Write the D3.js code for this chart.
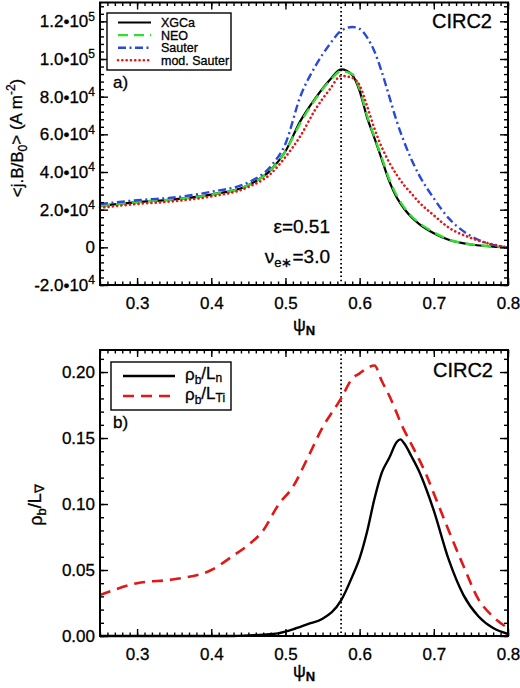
<!DOCTYPE html>
<html><head><meta charset="utf-8">
<script src="https://cdn.jsdelivr.net/npm/d3@7"></script>
<style>
body{margin:0;background:#fff}
text{font-family:"Liberation Sans",Arial,Helvetica,sans-serif;fill:#000;stroke:#000;stroke-width:0.3px}
</style>
</head><body>
<svg id="c" width="520" height="688"></svg>
<script>
// ---------- data ----------
const psiTop    = [0.25,0.30,0.35,0.40,0.45,0.48,0.50,0.52,0.54,0.56,0.575,0.59,0.60,0.61,0.62,0.63,0.64,0.65,0.66,0.67,0.68,0.70,0.72,0.75,0.78,0.80];
const xgca      = [2.2e4,2.4e4,2.55e4,2.8e4,3.3e4,4.1e4,5.1e4,6.7e4,7.9e4,8.9e4,9.45e4,9.15e4,8.3e4,6.9e4,5.8e4,4.65e4,3.5e4,2.65e4,2.05e4,1.6e4,1.25e4,7.5e3,4e3,1.5e3,4e2,0];
const neo       = [2.2e4,2.4e4,2.55e4,2.8e4,3.3e4,4.1e4,5.1e4,6.6e4,7.85e4,8.85e4,9.35e4,9.2e4,8.4e4,7.0e4,5.85e4,4.75e4,3.6e4,2.75e4,2.12e4,1.65e4,1.3e4,8e3,4.2e3,1.6e3,5e2,0];
const sauter    = [2.3e4,2.5e4,2.65e4,2.95e4,3.45e4,4.3e4,5.5e4,8.0e4,9.6e4,1.08e5,1.15e5,1.17e5,1.16e5,1.115e5,1.04e5,9.3e4,8.0e4,6.7e4,5.6e4,4.65e4,3.85e4,2.6e4,1.55e4,6e3,1.3e3,0];
const modSauter = [2.1e4,2.3e4,2.45e4,2.7e4,3.2e4,3.9e4,4.8e4,5.9e4,7.3e4,8.4e4,9.1e4,9.0e4,8.6e4,7.5e4,6.3e4,5.3e4,4.5e4,3.85e4,3.3e4,2.85e4,2.4e4,1.7e4,1.05e4,5e3,1.5e3,0];

const psiBot = [0.25,0.30,0.35,0.40,0.43,0.45,0.47,0.49,0.51,0.53,0.55,0.575,0.59,0.60,0.61,0.62,0.63,0.64,0.65,0.655,0.66,0.67,0.68,0.69,0.70,0.72,0.74,0.76,0.78,0.80];
const rhoLn  = [0,0,0,0,0,0.0005,0.001,0.002,0.005,0.009,0.013,0.027,0.045,0.059,0.079,0.104,0.124,0.135,0.147,0.149,0.146,0.136,0.125,0.111,0.095,0.058,0.031,0.015,0.006,0.0015];
const rhoLTi = [0.031,0.040,0.043,0.050,0.061,0.069,0.080,0.099,0.113,0.135,0.158,0.180,0.195,0.199,0.203,0.205,0.193,0.182,0.169,0.162,0.156,0.145,0.134,0.122,0.108,0.080,0.053,0.028,0.0146,0.006];

const xTickVals   = [0.3,0.4,0.5,0.6,0.7,0.8];
const xTickLabels = ["0.3","0.4","0.5","0.6","0.7","0.8"];
const yTopTickVals = [-2e4,0,2e4,4e4,6e4,8e4,1e5,1.2e5];
const yTopMant     = ["-2.0","0","2.0","4.0","6.0","8.0","1.0","1.2"];
const yTopExp      = ["4","","4","4","4","4","5","5"];
const yBotTickVals = [0,0.05,0.10,0.15,0.20];
const yBotTickLabels = ["0.00","0.05","0.10","0.15","0.20"];
const topLegend = ["XGCa","NEO","Sauter","mod. Sauter"];
const vLine = 0.575;

// ---------- layout ----------
const svg = d3.select("#c");
const L = 100, R = 508;
const x = d3.scaleLinear().domain([0.25,0.8]).range([L,R]);
const yT = d3.scaleLinear().domain([-2e4,1.3e5]).range([285,2.5]);
const yB = d3.scaleLinear().domain([0,0.2167]).range([636,350]);

function drawAxes(y, top, bottom, yMinorStep, yMajor, labelFn) {
  const g = svg.append("g");
  const xMinor = d3.range(0.25,0.8001,0.01).map(v=>+v.toFixed(2));
  const yMinor = d3.range(y.domain()[0], y.domain()[1]+1e-9, yMinorStep);
  g.append("g").attr("transform",`translate(0,${bottom})`).call(d3.axisBottom(x).tickValues(xMinor).tickSize(-3.5).tickSizeOuter(0).tickFormat(""));
  g.append("g").attr("transform",`translate(0,${top})`).call(d3.axisTop(x).tickValues(xMinor).tickSize(-3.5).tickSizeOuter(0).tickFormat(""));
  g.append("g").attr("transform",`translate(${L},0)`).call(d3.axisLeft(y).tickValues(yMinor).tickSize(-4).tickSizeOuter(0).tickFormat(""));
  g.append("g").attr("transform",`translate(${R},0)`).call(d3.axisRight(y).tickValues(yMinor).tickSize(-4).tickSizeOuter(0).tickFormat(""));
  g.append("g").attr("class","xb").attr("transform",`translate(0,${bottom})`)
    .call(d3.axisBottom(x).tickValues(xTickVals).tickSize(-7).tickSizeOuter(0).tickPadding(12).tickFormat((d,i)=>xTickLabels[i]));
  g.append("g").attr("transform",`translate(0,${top})`).call(d3.axisTop(x).tickValues(xTickVals).tickSize(-7).tickSizeOuter(0).tickFormat(""));
  const la = g.append("g").attr("transform",`translate(${L},0)`)
    .call(d3.axisLeft(y).tickValues(yMajor).tickSize(-8).tickSizeOuter(0).tickPadding(5).tickFormat(""));
  g.append("g").attr("transform",`translate(${R},0)`).call(d3.axisRight(y).tickValues(yMajor).tickSize(-8).tickSizeOuter(0).tickFormat(""));
  g.selectAll(".domain").remove();
  g.selectAll(".tick line").attr("stroke","#000").attr("stroke-width",1.4);
  g.selectAll(".xb text").attr("font-size",17).attr("font-family",'"Liberation Sans",Arial,sans-serif');
  la.selectAll(".tick text").each(function(d,i){ labelFn(d3.select(this), i); })
    .attr("font-size",17).attr("font-family",'"Liberation Sans",Arial,sans-serif');
  svg.append("rect").attr("x",L).attr("y",top).attr("width",R-L).attr("height",bottom-top)
    .attr("fill","none").attr("stroke","#000").attr("stroke-width",2);
}

// ---------- panel a ----------
const topY0 = yT.range()[1], topY1 = yT.range()[0];
const lineT = d3.line().x((d,i)=>x(psiTop[i])).y(d=>yT(d)).curve(d3.curveMonotoneX);
svg.append("line").attr("x1",x(vLine)).attr("x2",x(vLine)).attr("y1",topY0).attr("y2",topY1)
  .attr("stroke","#000").attr("stroke-width",1.8).attr("stroke-dasharray","1.6,2.6");
const seriesT = [
  {d:xgca, c:"#000", w:2.2, dash:null, cap:"butt"},
  {d:neo, c:"#33dd33", w:2.4, dash:"10,6", cap:"butt"},
  {d:sauter, c:"#2a48dc", w:2.4, dash:"8,3.5,2,3.5", cap:"butt"},
  {d:modSauter, c:"#e01818", w:2.6, dash:"0.1,4.2", cap:"round"}
];
seriesT.forEach(s=>{
  svg.append("path").attr("d",lineT(s.d)).attr("fill","none").attr("stroke",s.c)
    .attr("stroke-width",s.w).attr("stroke-dasharray",s.dash).attr("stroke-linecap",s.cap);
});
drawAxes(yT, topY0, topY1, 4000, yTopTickVals, (t,i)=>{
  t.text(null);
  t.append("tspan").text(yTopMant[i] === "0" ? "0" : yTopMant[i] + "\u2022" + "10");
  if (yTopExp[i]) t.append("tspan").attr("font-size",12).attr("dy","-0.55em").text(yTopExp[i]);
});
const lg = svg.append("g");
lg.append("rect").attr("x",107).attr("y",13).attr("width",124).attr("height",57).attr("fill","#fff").attr("stroke","#000").attr("stroke-width",1.4);
topLegend.forEach((name,i)=>{
  const yy = 22.5 + i*12.6, s = seriesT[i];
  lg.append("line").attr("x1",118).attr("x2",151).attr("y1",yy).attr("y2",yy).attr("stroke",s.c)
    .attr("stroke-width",s.w).attr("stroke-dasharray",s.dash).attr("stroke-linecap",s.cap);
  lg.append("text").attr("x",161).attr("y",yy).attr("dy","0.36em").attr("font-size",12.5).text(name);
});
svg.append("text").attr("x",113).attr("y",88).attr("font-size",17).text("a)");
svg.append("text").attr("x",492).attr("y",28).attr("font-size",20).attr("text-anchor","end").text("CIRC2");
svg.append("text").attr("x",330).attr("y",233).attr("font-size",19).attr("text-anchor","end").text("\u03b5=0.51");
const nu = svg.append("text").attr("x",330).attr("y",263).attr("font-size",19).attr("text-anchor","end");
nu.append("tspan").text("\u03bd");
nu.append("tspan").attr("font-size",13).attr("dy","0.3em").text("e\u2217");
nu.append("tspan").attr("dy","-0.22em").text("=3.0");
const xa = svg.append("text").attr("x",304).attr("y",331).attr("font-size",18).attr("text-anchor","middle");
xa.append("tspan").text("\u03c8");
xa.append("tspan").attr("font-size",13).attr("font-weight","bold").attr("dy","0.3em").text("N");
const ya = svg.append("text").attr("transform","translate(23,138) rotate(-90)").attr("font-size",17).attr("text-anchor","middle");
ya.append("tspan").text("<j.B/B");
ya.append("tspan").attr("font-size",12).attr("dy","0.3em").text("0");
ya.append("tspan").attr("dy","-0.3em").text("> (A m");
ya.append("tspan").attr("font-size",12).attr("dy","-0.55em").text("-2");
ya.append("tspan").attr("dy","0.4em").text(")");

// ---------- panel b ----------
const botY0 = yB.range()[1], botY1 = yB.range()[0];
const lineB = d3.line().x((d,i)=>x(psiBot[i])).y(d=>yB(d)).curve(d3.curveMonotoneX);
svg.append("line").attr("x1",x(vLine)).attr("x2",x(vLine)).attr("y1",botY0).attr("y2",botY1)
  .attr("stroke","#000").attr("stroke-width",1.8).attr("stroke-dasharray","1.6,2.6");
const seriesB = [
  {d:rhoLn, c:"#000", w:2.4, dash:null},
  {d:rhoLTi, c:"#e01818", w:2.6, dash:"11,7"}
];
seriesB.forEach(s=>{
  svg.append("path").attr("d",lineB(s.d)).attr("fill","none").attr("stroke",s.c)
    .attr("stroke-width",s.w).attr("stroke-dasharray",s.dash);
});
drawAxes(yB, botY0, botY1, 0.01, yBotTickVals, (t,i)=>{ t.text(yBotTickLabels[i]); });
const lb = svg.append("g");
lb.append("rect").attr("x",111).attr("y",362).attr("width",120).attr("height",48).attr("fill","#fff").attr("stroke","#000").attr("stroke-width",1.4);
[["n"],["Ti"]].forEach((sub,i)=>{
  const yy = 376 + i*20, s = seriesB[i];
  lb.append("line").attr("x1",123).attr("x2",175).attr("y1",yy).attr("y2",yy).attr("stroke",s.c)
    .attr("stroke-width",s.w).attr("stroke-dasharray",s.dash);
  const t = lb.append("text").attr("x",185).attr("y",yy+4).attr("font-size",17);
  t.append("tspan").text("\u03c1");
  t.append("tspan").attr("font-size",12).attr("dy","0.3em").text("b");
  t.append("tspan").attr("dy","-0.3em").text("/L");
  t.append("tspan").attr("font-size",12).attr("dy","0.3em").text(sub[0]);
});
svg.append("text").attr("x",113).attr("y",428).attr("font-size",17).text("b)");
svg.append("text").attr("x",493).attr("y",377).attr("font-size",20).attr("text-anchor","end").text("CIRC2");
const xb = svg.append("text").attr("x",304).attr("y",677).attr("font-size",18).attr("text-anchor","middle");
xb.append("tspan").text("\u03c8");
xb.append("tspan").attr("font-size",13).attr("font-weight","bold").attr("dy","0.3em").text("N");
const yb = svg.append("text").attr("transform","translate(42,505) rotate(-90)").attr("font-size",18).attr("text-anchor","middle");
yb.append("tspan").text("\u03c1");
yb.append("tspan").attr("font-size",13).attr("dy","0.3em").text("b");
yb.append("tspan").attr("dy","-0.3em").text("/L");
yb.append("tspan").attr("font-size",13).attr("dy","0.3em").text("\u2207");
</script>
</body></html>
